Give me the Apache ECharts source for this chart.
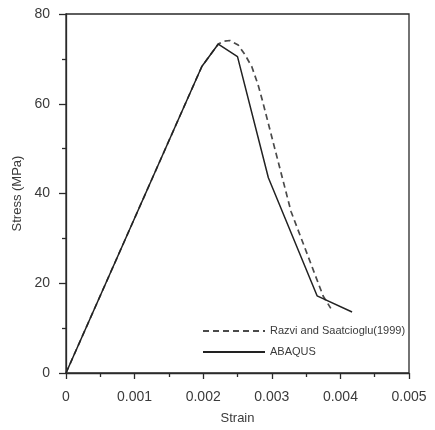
<!DOCTYPE html>
<html>
<head>
<meta charset="utf-8">
<script src="https://cdn.jsdelivr.net/npm/echarts@6/dist/echarts.min.js"></script>
<style>html,body{margin:0;padding:0;background:#fff}#c{width:435px;height:430px}</style>
</head>
<body>
<div id="c"></div>
<script>
const xTicks = [0, 0.001, 0.002, 0.003, 0.004, 0.005];
const yTicks = [0, 20, 40, 60, 80];
const razviStrain = [0, 0.00198, 0.00222, 0.00229, 0.00239, 0.00251, 0.00261, 0.00271, 0.0028, 0.00286, 0.00328, 0.00375, 0.00386];
const razviStress = [0, 68.3, 73.3, 73.9, 74.1, 73.1, 70.9, 68.2, 64.2, 60.9, 36.0, 17.1, 14.4];
const abaqusStrain = [0, 0.00198, 0.00222, 0.0025, 0.00295, 0.00366, 0.00417];
const abaqusStress = [0, 68.3, 73.3, 70.5, 43.5, 17.2, 13.6];

const chart = echarts.init(document.getElementById('c'));
const font = '"Liberation Sans", Arial, sans-serif';
const axisColor = '#2a2a2a';
const textColor = '#3a3a3a';
chart.setOption({
  animation: false,
  backgroundColor: '#fff',
  grid: {left: 66, right: 26, top: 14, bottom: 55, show: true, borderColor: axisColor, borderWidth: 1.3},
  legend: {
    orient: 'vertical', left: 197, top: 321, itemWidth: 62, itemHeight: 14, itemGap: 7,
    padding: [3, 5],
    itemStyle: {opacity: 0},
    textStyle: {fontFamily: font, fontSize: 11, color: textColor, lineHeight: 14},
    data: ['Razvi and Saatcioglu(1999)', 'ABAQUS']
  },
  xAxis: {
    type: 'value', min: xTicks[0], max: xTicks[xTicks.length - 1], interval: 0.001,
    name: 'Strain', nameLocation: 'middle', nameGap: 39,
    nameTextStyle: {fontFamily: font, fontSize: 13, color: textColor},
    axisLine: {lineStyle: {color: axisColor, width: 1.3}},
    axisTick: {length: 6, lineStyle: {color: axisColor, width: 1.3}},
    minorTick: {show: true, splitNumber: 2, length: 4, lineStyle: {color: axisColor, width: 1.3}},
    splitLine: {show: false},
    axisLabel: {fontFamily: font, fontSize: 14, color: textColor, margin: 17,
      formatter: v => v === 0 ? '0' : v.toFixed(3)}
  },
  yAxis: {
    type: 'value', min: yTicks[0], max: yTicks[yTicks.length - 1], interval: 20,
    name: 'Stress (MPa)', nameLocation: 'middle', nameGap: 37, nameRotate: 90,
    nameTextStyle: {fontFamily: font, fontSize: 13, color: textColor},
    axisLine: {lineStyle: {color: axisColor, width: 1.3}},
    axisTick: {length: 7, lineStyle: {color: axisColor, width: 1.3}},
    minorTick: {show: true, splitNumber: 2, length: 4, lineStyle: {color: axisColor, width: 1.3}},
    splitLine: {show: false},
    axisLabel: {fontFamily: font, fontSize: 14, color: textColor, margin: 16}
  },
  series: [
    {
      name: 'Razvi and Saatcioglu(1999)', type: 'line', symbol: 'none',
      data: razviStrain.map((x, i) => [x, razviStress[i]]),
      lineStyle: {color: '#4a4a4a', width: 1.7, type: [6, 4]},
      itemStyle: {color: '#4a4a4a'}
    },
    {
      name: 'ABAQUS', type: 'line', symbol: 'none',
      data: abaqusStrain.map((x, i) => [x, abaqusStress[i]]),
      lineStyle: {color: '#222', width: 1.5},
      itemStyle: {color: '#222'}
    }
  ]
});
</script>
</body>
</html>
